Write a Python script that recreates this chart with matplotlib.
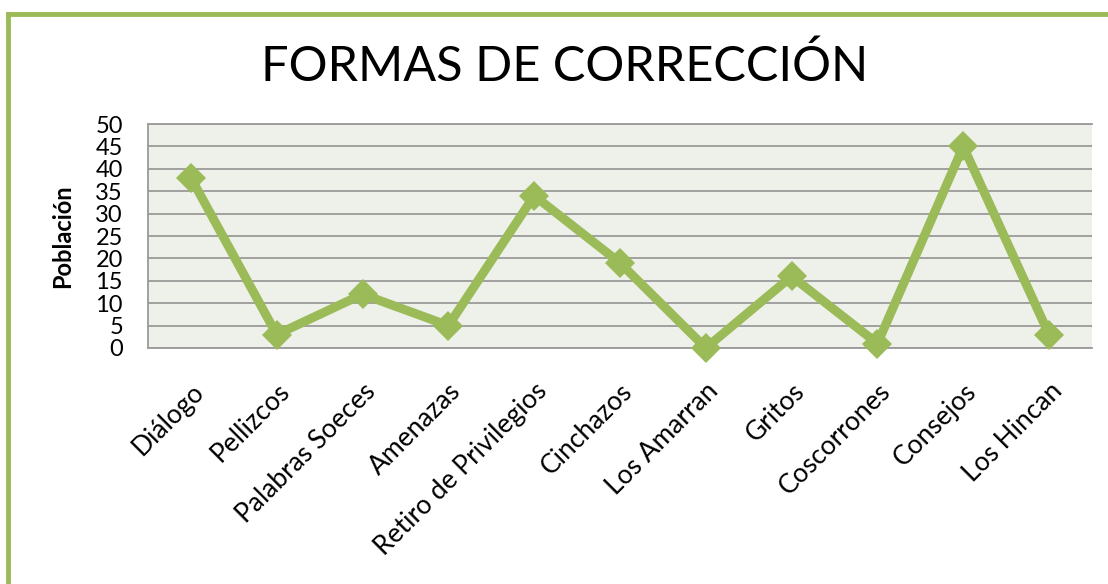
import matplotlib
matplotlib.use("Agg")
import matplotlib.pyplot as plt
from matplotlib.lines import Line2D

categories = ["Diálogo", "Pellizcos", "Palabras Soeces", "Amenazas",
              "Retiro de Privilegios", "Cinchazos", "Los Amarran", "Gritos",
              "Coscorrones", "Consejos", "Los Hincan"]
values = [38, 3, 12, 5, 34, 19, 0, 16, 1, 45, 3]
yticks = [0, 5, 10, 15, 20, 25, 30, 35, 40, 45, 50]

green = "#9BBB59"
plt.rcParams['font.family'] = ['Lato', 'DejaVu Sans']

fig = plt.figure(figsize=(11.08, 5.84), dpi=100)
W, H = 1108, 584
left, right, top, bottom = 148, 1092, 124, 348
ax = fig.add_axes([left / W, 1 - bottom / H, (right - left) / W, (bottom - top) / H])
ax.set_facecolor("#EEF1E9")

x = list(range(len(categories)))
ax.plot(x, values, color=green, lw=6.5, marker="D", markersize=15,
        markeredgewidth=0, solid_joinstyle="miter", zorder=3, clip_on=False)

ax.set_xlim(-0.5, len(categories) - 0.5)
ax.set_ylim(0, 50)
ax.set_yticks(yticks)
ax.set_yticklabels([str(v) for v in yticks], fontsize=17)
ax.yaxis.grid(True, color="#9A9A9A", lw=1.3)
ax.set_axisbelow(True)
ax.tick_params(axis="y", length=0, pad=18)
ax.tick_params(axis="x", length=0, pad=22)
ax.set_xticks(x)
ax.set_xticklabels(categories, rotation=45, ha="right", rotation_mode="anchor", fontsize=19)
for s in ["top", "left", "bottom"]:
    ax.spines[s].set_color("#9A9A9A")
    ax.spines[s].set_linewidth(1.3)
ax.spines["right"].set_visible(False)

ax.set_ylabel("Población", fontsize=17, fontweight="bold", labelpad=15)

fig.text(565 / W, 1 - 66 / H, "FORMAS DE CORRECCIÓN", fontsize=35,
         ha="center", va="center")

# green frame (left and top edges visible)
fig.add_artist(Line2D([8 / W, 8 / W], [0, 1 - 14 / H], color=green, lw=3.5,
                      transform=fig.transFigure, solid_capstyle="projecting"))
fig.add_artist(Line2D([8 / W, 1], [1 - 14 / H, 1 - 14 / H], color=green, lw=3.5,
                      transform=fig.transFigure, solid_capstyle="projecting"))

fig.savefig("out.png", dpi=100)
